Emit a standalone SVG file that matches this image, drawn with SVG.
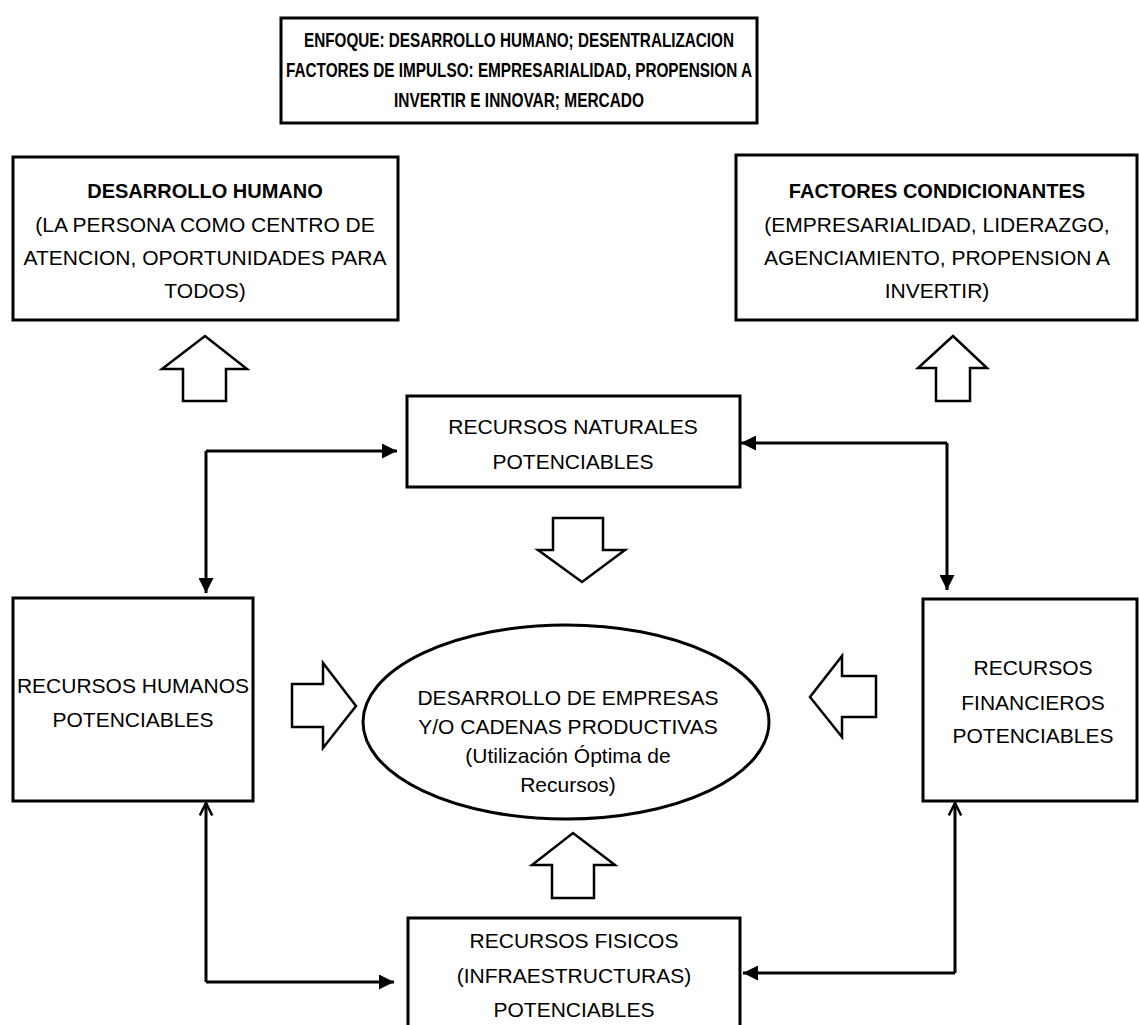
<svg xmlns="http://www.w3.org/2000/svg" width="1139" height="1025" viewBox="0 0 1139 1025">
<defs>
<style>
.box{fill:#fff;stroke:#000;stroke-width:3}
.blk{fill:#fff;stroke:#000;stroke-width:2.5;stroke-linejoin:miter}
.t{font-family:"Liberation Sans",Arial,sans-serif;font-size:21px;fill:#000;text-anchor:middle}
.b{font-weight:bold;font-size:20px}
.con{fill:none;stroke:#000;stroke-width:3}
</style>
<marker id="ah" viewBox="0 0 10 10" refX="10" refY="5" markerWidth="5" markerHeight="5" markerUnits="strokeWidth" orient="auto">
<path d="M0,0 L10,5 L0,10 Z" fill="#000"/>
</marker>
<marker id="av" viewBox="0 0 12 12" refX="11" refY="6" markerWidth="5" markerHeight="5" markerUnits="strokeWidth" orient="auto">
<path d="M1,1 L11,6 L1,11" fill="none" stroke="#000" stroke-width="2"/>
</marker>
</defs>
<rect width="1139" height="1025" fill="#fff"/>

<g id="enfoque">
<rect class="box" x="281" y="18" width="476" height="105"/>
<text class="t b" x="519" y="47" textLength="430" lengthAdjust="spacingAndGlyphs">ENFOQUE: DESARROLLO HUMANO; DESENTRALIZACION</text>
<text class="t b" x="519" y="77" textLength="466" lengthAdjust="spacingAndGlyphs">FACTORES DE IMPULSO: EMPRESARIALIDAD, PROPENSION A</text>
<text class="t b" x="519" y="107" textLength="250" lengthAdjust="spacingAndGlyphs">INVERTIR E INNOVAR; MERCADO</text>
</g>

<g id="desarrollo-humano">
<rect class="box" x="13" y="157" width="385" height="163"/>
<text class="t b" x="205" y="198">DESARROLLO HUMANO</text>
<text class="t" x="205" y="232">(LA PERSONA COMO CENTRO DE</text>
<text class="t" x="205" y="265">ATENCION, OPORTUNIDADES PARA</text>
<text class="t" x="205" y="298">TODOS)</text>
</g>

<g id="factores-condicionantes">
<rect class="box" x="736" y="155" width="401" height="165"/>
<text class="t b" x="937" y="198">FACTORES CONDICIONANTES</text>
<text class="t" x="937" y="232">(EMPRESARIALIDAD, LIDERAZGO,</text>
<text class="t" x="937" y="265">AGENCIAMIENTO, PROPENSION A</text>
<text class="t" x="937" y="298">INVERTIR)</text>
</g>

<g id="recursos-naturales">
<rect class="box" x="407" y="396" width="333" height="91"/>
<text class="t" x="573" y="434">RECURSOS NATURALES</text>
<text class="t" x="573" y="469">POTENCIABLES</text>
</g>

<g id="recursos-humanos">
<rect class="box" x="13" y="598" width="240" height="203"/>
<text class="t" x="133" y="693">RECURSOS HUMANOS</text>
<text class="t" x="133" y="727">POTENCIABLES</text>
</g>

<g id="recursos-financieros">
<rect class="box" x="923" y="599" width="214" height="202"/>
<text class="t" x="1033" y="675">RECURSOS</text>
<text class="t" x="1033" y="710">FINANCIEROS</text>
<text class="t" x="1033" y="743">POTENCIABLES</text>
</g>

<g id="desarrollo-empresas">
<ellipse cx="566" cy="722" rx="203" ry="97" fill="#fff" stroke="#000" stroke-width="3"/>
<text class="t" x="568" y="705">DESARROLLO DE EMPRESAS</text>
<text class="t" x="568" y="734">Y/O CADENAS PRODUCTIVAS</text>
<text class="t" x="568" y="763">(Utilización Óptima de</text>
<text class="t" x="568" y="792">Recursos)</text>
</g>

<g id="recursos-fisicos">
<rect class="box" x="408" y="918" width="332" height="120"/>
<text class="t" x="574" y="948">RECURSOS FISICOS</text>
<text class="t" x="574" y="983">(INFRAESTRUCTURAS)</text>
<text class="t" x="574" y="1017">POTENCIABLES</text>
</g>

<g id="block-arrows">
<path class="blk" d="M183,401 V369 H162 L205,336 L247,369 H226 V401 Z"/>
<path class="blk" d="M936,401 V368 H918 L953,336 L987,368 H970 V401 Z"/>
<path class="blk" d="M553,518 H603 V550 H625 L582,582 L538,550 H553 Z"/>
<path class="blk" d="M292,684 H323 V663 L356,706 L323,748 V727 H292 Z"/>
<path class="blk" d="M876,676 H842 V656 L810,697 L842,737 V717 H876 Z"/>
<path class="blk" d="M552,898 V865 H532 L573,833 L615,865 H594 V898 Z"/>
</g>

<g id="connectors">
<path class="con" d="M206,451 H397" marker-end="url(#ah)"/>
<path class="con" d="M206,451 V593" marker-end="url(#ah)"/>
<path class="con" d="M947,443 H741" marker-end="url(#ah)"/>
<path class="con" d="M947,443 V590" marker-end="url(#ah)"/>
<path class="con" d="M206,982 H394" marker-end="url(#ah)"/>
<path class="con" d="M206,982 V803" marker-end="url(#av)"/>
<path class="con" d="M955,973 H743" marker-end="url(#ah)"/>
<path class="con" d="M955,973 V803" marker-end="url(#av)"/>
</g>
</svg>
